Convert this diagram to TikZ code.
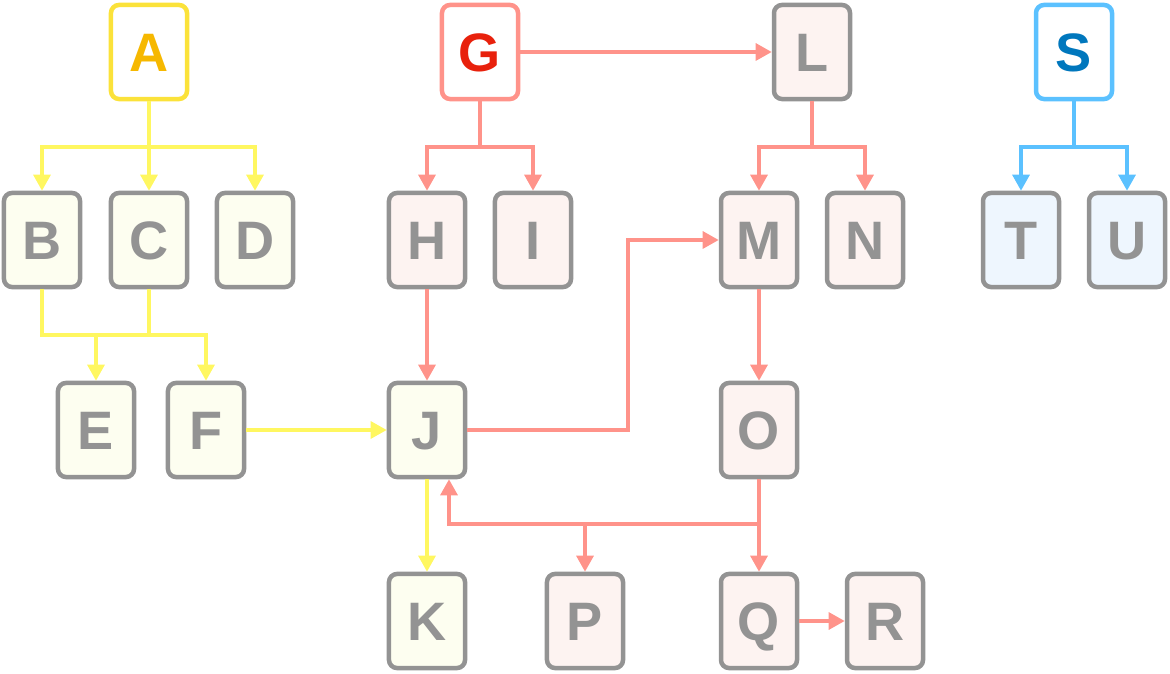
\documentclass[tikz,border=0pt]{standalone}
\usepackage{fontspec}
\setmainfont{Liberation Sans}
\usetikzlibrary{arrows.meta}

\definecolor{boxgray}{HTML}{939393}
\definecolor{ylwline}{HTML}{FFF760}
\definecolor{ylwborder}{HTML}{FBE23A}
\definecolor{ylwtext}{HTML}{F6B800}
\definecolor{ylwfill}{HTML}{FDFEF0}
\definecolor{pnkline}{HTML}{FF938A}
\definecolor{pnktext}{HTML}{E8210C}
\definecolor{pnkfill}{HTML}{FDF3F1}
\definecolor{bluline}{HTML}{5BC1FF}
\definecolor{blutext}{HTML}{0077BD}
\definecolor{blufill}{HTML}{EEF6FE}

\begin{document}
\begin{tikzpicture}[
			x=0.025cm, y=-0.025cm,
			box/.style={rectangle, rounded corners=0.2cm, draw=boxgray, line width=3.2pt, minimum width=1.9cm, minimum height=2.35cm, inner sep=0pt, text height=27.6pt, text depth=0pt, font=\fontsize{38.5}{40}\selectfont\bfseries, text=boxgray},
			ylwbox/.style={box, fill=ylwfill},
			pnkbox/.style={box, fill=pnkfill},
			blubox/.style={box, fill=blufill},
			ylwroot/.style={box, draw=ylwborder, fill=white, text=ylwtext},
			pnkroot/.style={box, draw=pnkline, fill=white, text=pnktext},
			bluroot/.style={box, draw=bluline, fill=white, text=blutext},
			ylw/.style={draw=ylwline, line width=2.5pt},
			pnk/.style={draw=pnkline, line width=2.5pt},
			blu/.style={draw=bluline, line width=2.5pt},
			tip/.style={-{Triangle[length=4mm, width=4.2mm]}},
			]
			\useasboundingbox (0,0) rectangle (1170,674);

			%Nodes
				\node[ylwroot]	(A)	at (149,52)		{A};
				\node[pnkroot]	(G)	at (480,52)		{G};
				\node[pnkbox]	(L)	at (812,52)		{L};
				\node[bluroot]	(S)	at (1074,52)	{S};

				\node[ylwbox]	(B)	at (42,240)		{B};
				\node[ylwbox]	(C)	at (149,240)	{C};
				\node[ylwbox]	(D)	at (255,240)	{D};
				\node[pnkbox]	(H)	at (427,240)	{H};
				\node[pnkbox]	(I)	at (533,240)	{I};
				\node[pnkbox]	(M)	at (759,240)	{M};
				\node[pnkbox]	(N)	at (865,240)	{N};
				\node[blubox]	(T)	at (1021,240)	{T};
				\node[blubox]	(U)	at (1127,240)	{U};

				\node[ylwbox]	(E)	at (96,430)		{E};
				\node[ylwbox]	(F)	at (206,430)	{F};
				\node[ylwbox]	(J)	at (427,430)	{J};
				\node[pnkbox]	(O)	at (759,430)	{O};

				\node[ylwbox]	(K)	at (427,621)	{K};
				\node[pnkbox]	(P)	at (585,621)	{P};
				\node[pnkbox]	(Q)	at (759,621)	{Q};
				\node[pnkbox]	(R)	at (885,621)	{R};

			%Splits
				\coordinate (a-split)	at (149,147);
				\coordinate (g-split)	at (480,147);
				\coordinate (l-split)	at (812,147);
				\coordinate (s-split)	at (1074,147);
				\coordinate (bc-split)	at (149,335);
				\coordinate (jm-bend)	at (628,430);
				\coordinate (o-split)	at (759,524);
				\coordinate (p-split)	at (585,524);

			%Lines
				\draw[ylw] (A.south) -- (a-split);
				\draw[ylw,tip] (a-split) -| (B.north);
				\draw[ylw,tip] (a-split) -- (C.north);
				\draw[ylw,tip] (a-split) -| (D.north);

				\draw[ylw] (B.south) |- (bc-split);
				\draw[ylw] (C.south) -- (bc-split);
				\draw[ylw,tip] (bc-split) -| (E.north);
				\draw[ylw,tip] (bc-split) -| (F.north);
				\draw[ylw,tip] (F.east) -- (J.west);
				\draw[ylw,tip] (J.south) -- (K.north);

				\draw[pnk,tip] (G.east) -- (L.west);
				\draw[pnk] (G.south) -- (g-split);
				\draw[pnk,tip] (g-split) -| (H.north);
				\draw[pnk,tip] (g-split) -| (I.north);
				\draw[pnk,tip] (H.south) -- (J.north);

				\draw[pnk] (L.south) -- (l-split);
				\draw[pnk,tip] (l-split) -| (M.north);
				\draw[pnk,tip] (l-split) -| (N.north);

				\draw[pnk,tip] (J.east) -- (jm-bend) |- (M.west);
				\draw[pnk,tip] (M.south) -- (O.north);

				\draw[pnk] (O.south) -- (o-split);
				\draw[pnk,tip] (o-split) -- (Q.north);
				\draw[pnk,tip] (o-split) -| ([xshift=0.55cm]J.south);
				\draw[pnk,tip] (p-split) -- (P.north);
				\draw[pnk,tip] (Q.east) -- (R.west);

				\draw[blu] (S.south) -- (s-split);
				\draw[blu,tip] (s-split) -| (T.north);
				\draw[blu,tip] (s-split) -| (U.north);
		\end{tikzpicture}
\end{document}
